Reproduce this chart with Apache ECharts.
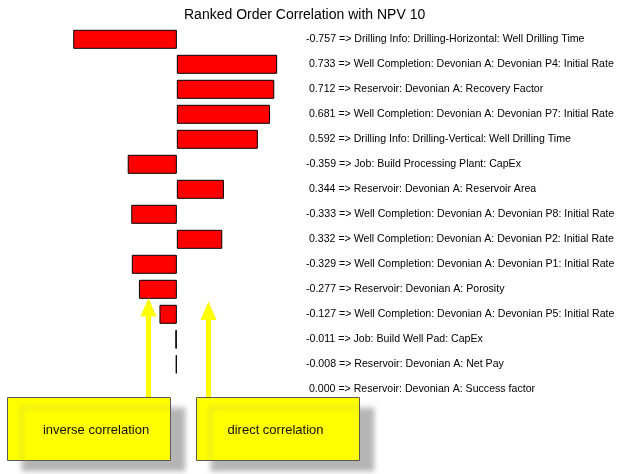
<!DOCTYPE html>
<html><head><meta charset="utf-8">
<script src="https://cdn.jsdelivr.net/npm/echarts@6/dist/echarts.min.js"></script>
<style>html,body{margin:0;padding:0;background:#fff}#c{width:636px;height:474px}</style>
</head><body><div id="c"></div>
<script>
const titleText = 'Ranked Order Correlation with NPV 10';
const factors = [
  'Drilling Info: Drilling-Horizontal: Well Drilling Time',
  'Well Completion: Devonian A: Devonian P4: Initial Rate',
  'Reservoir: Devonian A: Recovery Factor',
  'Well Completion: Devonian A: Devonian P7: Initial Rate',
  'Drilling Info: Drilling-Vertical: Well Drilling Time',
  'Job: Build Processing Plant: CapEx',
  'Reservoir: Devonian A: Reservoir Area',
  'Well Completion: Devonian A: Devonian P8: Initial Rate',
  'Well Completion: Devonian A: Devonian P2: Initial Rate',
  'Well Completion: Devonian A: Devonian P1: Initial Rate',
  'Reservoir: Devonian A: Porosity',
  'Well Completion: Devonian A: Devonian P5: Initial Rate',
  'Job: Build Well Pad: CapEx',
  'Reservoir: Devonian A: Net Pay',
  'Reservoir: Devonian A: Success factor'
];
const correlations = [-0.757, 0.733, 0.712, 0.681, 0.592, -0.359, 0.344, -0.333, 0.332, -0.329, -0.277, -0.127, -0.011, -0.008, 0.000];
const annotationLabels = ['inverse correlation', 'direct correlation'];

const chart = echarts.init(document.getElementById('c'), null, {renderer: 'canvas'});
const FONT = 'Liberation Sans';

function arrow(cx, tipY, headY, bottomY) {
  return {
    type: 'polygon',
    shape: {points: [[cx-2.5,bottomY],[cx-2.5,headY],[cx-8,headY],[cx,tipY],[cx+8,headY],[cx+2.5,headY],[cx+2.5,bottomY]]},
    style: {fill: '#ffff00'},
    z: 10
  };
}
function box(x, label, textX) {
  return [{
    type: 'rect',
    shape: {x: x, y: 397.5, width: 163, height: 63},
    style: {fill: '#ffff00', stroke: '#5a5a50', lineWidth: 1,
            shadowBlur: 5, shadowOffsetX: 14, shadowOffsetY: 10, shadowColor: 'rgba(150,150,150,0.7)'},
    z: 11
  }, {
    type: 'text',
    style: {text: label, x: textX, y: 430, textAlign: 'center', textVerticalAlign: 'middle',
            font: '13px "' + FONT + '"', fill: '#111'},
    z: 12
  }];
}

chart.setOption({
  backgroundColor: '#fff',
  animation: false,
  title: {
    text: titleText, left: 179, top: 3,
    textStyle: {fontFamily: FONT, fontSize: 14, fontWeight: 'normal', color: '#000'}
  },
  grid: {left: 40, right: 336, top: 26.8, bottom: 72.2},
  xAxis: {
    type: 'value', min: -1, max: 0.9, show: false
  },
  yAxis: {
    type: 'category', data: factors, inverse: true, position: 'right',
    axisLine: {show: false}, axisTick: {show: false}, splitLine: {show: false},
    axisLabel: {
      margin: 6, align: 'left', color: '#000', fontFamily: FONT, fontSize: 10.6,
      formatter: function (name, i) {
        const v = correlations[i];
        return (v < 0 ? '' : ' ') + v.toFixed(3) + ' => ' + name;
      }
    }
  },
  series: [{
    type: 'bar', barWidth: 19,
    data: correlations.map(v => v === 0 ? {value: v, itemStyle: {borderWidth: 0}} : v),
    itemStyle: {color: '#ff0000', borderColor: '#000', borderWidth: 1}
  }],
  graphic: [
    arrow(148.5, 298, 316.5, 398),
    arrow(208.5, 301.5, 320, 398),
    ...box(7.5, annotationLabels[0], 96),
    ...box(196.5, annotationLabels[1], 275.5)
  ]
});
</script>
</body></html>
